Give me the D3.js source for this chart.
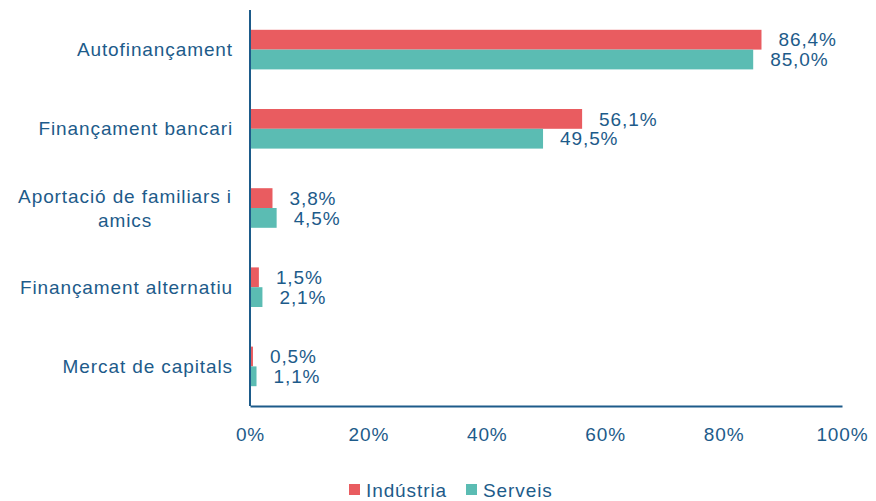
<!DOCTYPE html>
<html>
<head>
<meta charset="utf-8">
<script src="https://cdn.jsdelivr.net/npm/d3@7"></script>
<style>
  body { margin: 0; background: #fff; }
  svg text { font-family: "Liberation Sans", Arial, sans-serif; fill: #1d5b8a; font-size: 19px; letter-spacing: 0.9px; }
</style>
</head>
<body>
<div id="chart"></div>
<script>
// Chart data
var categories = [
    ["Autofinançament"],
    ["Finançament bancari"],
    ["Aportació de familiars i", "amics"],
    ["Finançament alternatiu"],
    ["Mercat de capitals"]
];
var seriesNames = ["Indústria", "Serveis"];
var industria = [86.4, 56.1, 3.8, 1.5, 0.5];
var serveis = [85.0, 49.5, 4.5, 2.1, 1.1];
var xTicks = [0, 20, 40, 60, 80, 100];
var colors = ["#e95c60", "#5bbcb3"];

var W = 876, H = 501;
var margin = {top: 10, left: 250, right: 34, bottom: 95};
var width = W - margin.left - margin.right;
var height = H - margin.top - margin.bottom;

var svg = d3.select("#chart").append("svg")
    .attr("width", W).attr("height", H)
    .append("g")
    .attr("transform", "translate(" + margin.left + "," + margin.top + ")");

var xScale = d3.scaleLinear().domain([0, 100]).range([0, width]);
var yScale = d3.scaleBand()
    .domain(d3.range(categories.length))
    .range([0, height])
    .paddingInner(0.5).paddingOuter(0.25);
var sub = d3.scaleBand().domain([0, 1]).range([0, yScale.bandwidth()]);

var fmt = function(v) { return d3.format(".1f")(v).replace(".", ",") + "%"; };

// bars + labels per series
[industria, serveis].forEach(function(values, s) {
    var g = svg.append("g");
    g.selectAll("rect")
        .data(values)
        .enter().append("rect")
        .attr("x", 0)
        .attr("y", function(d, i) { return yScale(i) + sub(s); })
        .attr("width", function(d) { return xScale(d); })
        .attr("height", sub.bandwidth())
        .attr("fill", colors[s]);

    g.selectAll("text")
        .data(values)
        .enter().append("text")
        .attr("x", function(d) { return xScale(d) + 17; })
        .attr("y", function(d, i) { return yScale(i) + sub(s) + sub.bandwidth() / 2; })
        .attr("dy", "0.35em")
        .text(fmt);
});

// category labels
var catG = svg.append("g");
categories.forEach(function(lines, i) {
    var cy = yScale(i) + yScale.bandwidth() / 2;
    var multi = lines.length > 1;
    var t = catG.append("text")
        .attr("text-anchor", multi ? "middle" : "end");
    lines.forEach(function(line, j) {
        t.append("tspan")
            .attr("x", multi ? -125 : -17)
            .attr("y", cy + (j - (lines.length - 1) / 2) * 24)
            .attr("dy", "0.35em")
            .text(line);
    });
});

// axes
var xAxis = svg.append("g")
    .attr("transform", "translate(0," + height + ")")
    .call(d3.axisBottom(xScale).tickValues(xTicks).tickSize(0).tickPadding(22)
        .tickFormat(function(d) { return d + "%"; }));
xAxis.select(".domain").attr("stroke", "#1d5b8a").attr("stroke-width", 2);
xAxis.selectAll("text").attr("font-size", null).attr("font-family", null).attr("fill", "#1d5b8a");

svg.append("line")
    .attr("x1", 0).attr("x2", 0)
    .attr("y1", 0).attr("y2", height)
    .attr("stroke", "#1d5b8a").attr("stroke-width", 2);

// legend
var legend = svg.append("g")
    .attr("transform", "translate(" + (349 - margin.left) + "," + (490 - margin.top) + ")");
var legX = [0, 117];
seriesNames.forEach(function(name, i) {
    legend.append("rect")
        .attr("x", legX[i]).attr("y", -6)
        .attr("width", 11).attr("height", 11)
        .attr("fill", colors[i]);
    legend.append("text")
        .attr("x", legX[i] + 17).attr("y", 0)
        .attr("dy", "0.35em")
        .text(name);
});
</script>
</body>
</html>
